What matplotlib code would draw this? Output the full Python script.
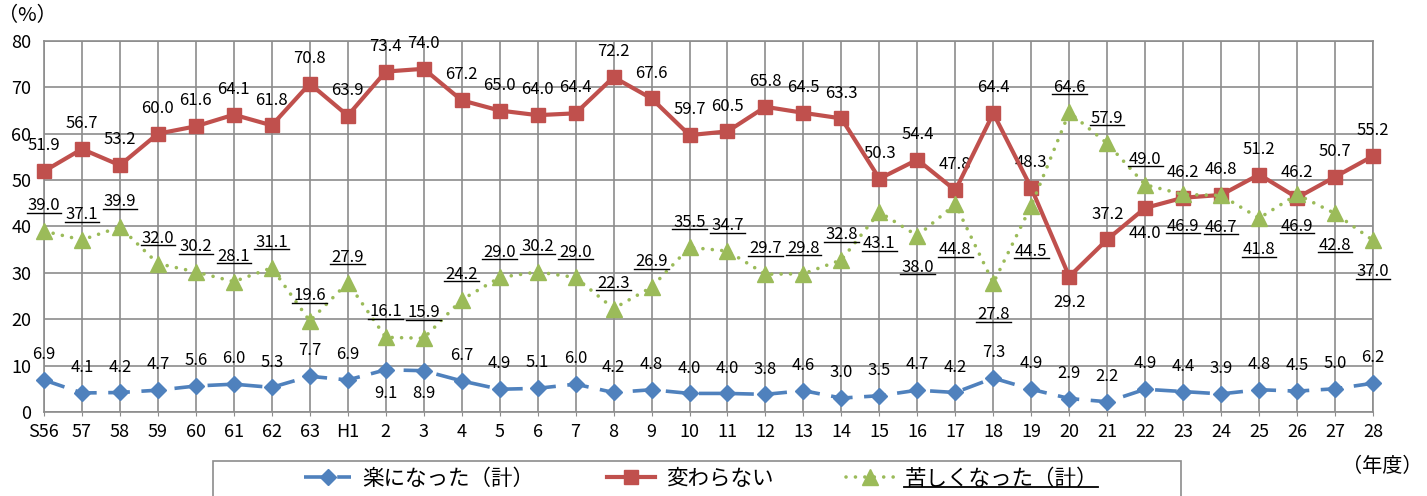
import numpy as np
import matplotlib.pyplot as plt
from matplotlib.lines import Line2D
from matplotlib.patches import Rectangle

plt.rcParams['font.family'] = ['Noto Sans CJK JP', 'DejaVu Sans']

# 年度
years = ['S56', '57', '58', '59', '60', '61', '62', '63', 'H1',
         '2', '3', '4', '5', '6', '7', '8', '9', '10', '11', '12', '13', '14',
         '15', '16', '17', '18', '19', '20', '21', '22', '23', '24', '25',
         '26', '27', '28']

# 楽になった（計）
raku = [6.9, 4.1, 4.2, 4.7, 5.6, 6.0, 5.3, 7.7, 6.9,
        9.1, 8.9, 6.7, 4.9, 5.1, 6.0, 4.2, 4.8, 4.0, 4.0, 3.8, 4.6, 3.0,
        3.5, 4.7, 4.2, 7.3, 4.9, 2.9, 2.2, 4.9, 4.4, 3.9, 4.8, 4.5, 5.0, 6.2]

# 変わらない
kawaranai = [51.9, 56.7, 53.2, 60.0, 61.6, 64.1, 61.8, 70.8, 63.9,
             73.4, 74.0, 67.2, 65.0, 64.0, 64.4, 72.2, 67.6, 59.7, 60.5, 65.8,
             64.5, 63.3, 50.3, 54.4, 47.8, 64.4, 48.3, 29.2, 37.2, 44.0, 46.2,
             46.8, 51.2, 46.2, 50.7, 55.2]

# 苦しくなった（計）
kurushiku = [39.0, 37.1, 39.9, 32.0, 30.2, 28.1, 31.1, 19.6, 27.9,
             16.1, 15.9, 24.2, 29.0, 30.2, 29.0, 22.3, 26.9, 35.5, 34.7, 29.7,
             29.8, 32.8, 43.1, 38.0, 44.8, 27.8, 44.5, 64.6, 57.9, 49.0, 46.9,
             46.7, 41.8, 46.9, 42.8, 37.0]

BLUE = '#4F81BD'
RED = '#C0504D'
GREEN = '#9BBB59'
GRID = '#8C8C8C'

fig = plt.figure(figsize=(14.27, 4.96), dpi=100)
ax = fig.add_axes([0.0308, 0.1694, 0.9314, 0.748])

x = np.arange(len(years))

ax.plot(x, raku, color=BLUE, lw=2.6, linestyle=(0, (6, 3.2)),
        marker='D', markersize=8, clip_on=False, zorder=3,
        label='楽になった（計）')
ax.plot(x, kawaranai, color=RED, lw=3, marker='s', markersize=10.5,
        clip_on=False, zorder=4, label='変わらない')
ax.plot(x, kurushiku, color=GREEN, lw=2.6, linestyle=(0, (0.01, 2.6)),
        dash_capstyle='round', marker='^', markersize=11,
        clip_on=False, zorder=5, label='苦しくなった（計）')

ax.set_xlim(0, len(years) - 1)
ax.set_ylim(0, 80)
ax.set_xticks(x)
ax.set_xticklabels(years, fontsize=13)
ax.set_yticks(np.arange(0, 81, 10))
ax.tick_params(axis='y', length=0, labelsize=13, pad=9)
ax.tick_params(axis='x', length=3, direction='out', color=GRID, pad=5)
ax.grid(True, color=GRID, lw=1.2)
ax.set_axisbelow(True)
for s in ax.spines.values():
    s.set_color(GRID)
    s.set_linewidth(1.2)

# label offsets (points, baseline)
blue_below = {9, 10}
red_below = {27, 29}
green_below = {22, 23, 24, 25, 26, 30, 31, 32, 33, 34, 35}
green_far = {24, 26}

def offset(i, below, up=15, down=-24, far=None):
    if far is not None and i in far:
        return -36
    return down if i in below else up

green_texts = []
for i in range(len(years)):
    ax.annotate(f'{raku[i]:.1f}', (i, raku[i]), xytext=(0, offset(i, blue_below, down=-20)),
                textcoords='offset points', ha='center', va='baseline', fontsize=12)
    ax.annotate(f'{kawaranai[i]:.1f}', (i, kawaranai[i]), xytext=(0, offset(i, red_below, down=-22)),
                textcoords='offset points', ha='center', va='baseline', fontsize=12)
    off = offset(i, green_below, down=-26, far=green_far)
    t = ax.annotate(f'{kurushiku[i]:.1f}', (i, kurushiku[i]), xytext=(0, off),
                    textcoords='offset points', ha='center', va='baseline', fontsize=12)
    green_texts.append((t, i, off))

fig.text(27 / 1427, 1 - 16 / 496, '（%）', fontsize=14.5, ha='center', va='center')
fig.text(1382 / 1427, 1 - 467 / 496, '（年度）', fontsize=14.5, ha='center', va='center')

# legend
fig.patches.append(Rectangle((213 / 1427, -0.05), (1181 - 213) / 1427, 0.05 + 35 / 496,
                             transform=fig.transFigure, fill=False,
                             edgecolor=GRID, lw=1.2))
leg = fig.legend(loc='center', bbox_to_anchor=(701 / 1427, 1 - 479 / 496), ncol=3,
                 frameon=False, fontsize=15.5, handlelength=2.2, handletextpad=0.5,
                 columnspacing=3.4)

fig.canvas.draw()
W, H = fig.bbox.width, fig.bbox.height
for t, i, off in green_texts:
    bb = t.get_window_extent()
    base = ax.transData.transform((i, kurushiku[i]))[1] + off * fig.dpi / 72
    y = base - 2.5
    fig.add_artist(Line2D([(bb.x0 - 1) / W, (bb.x1 + 1) / W], [y / H, y / H],
                          transform=fig.transFigure, color='black', lw=1.0))
lt = leg.get_texts()[2]
bb = lt.get_window_extent()
fig.add_artist(Line2D([bb.x0 / W, bb.x1 / W], [(bb.y0 + 3) / H, (bb.y0 + 3) / H],
                      transform=fig.transFigure, color='black', lw=1.3))

fig.savefig('out.png', dpi=100)
